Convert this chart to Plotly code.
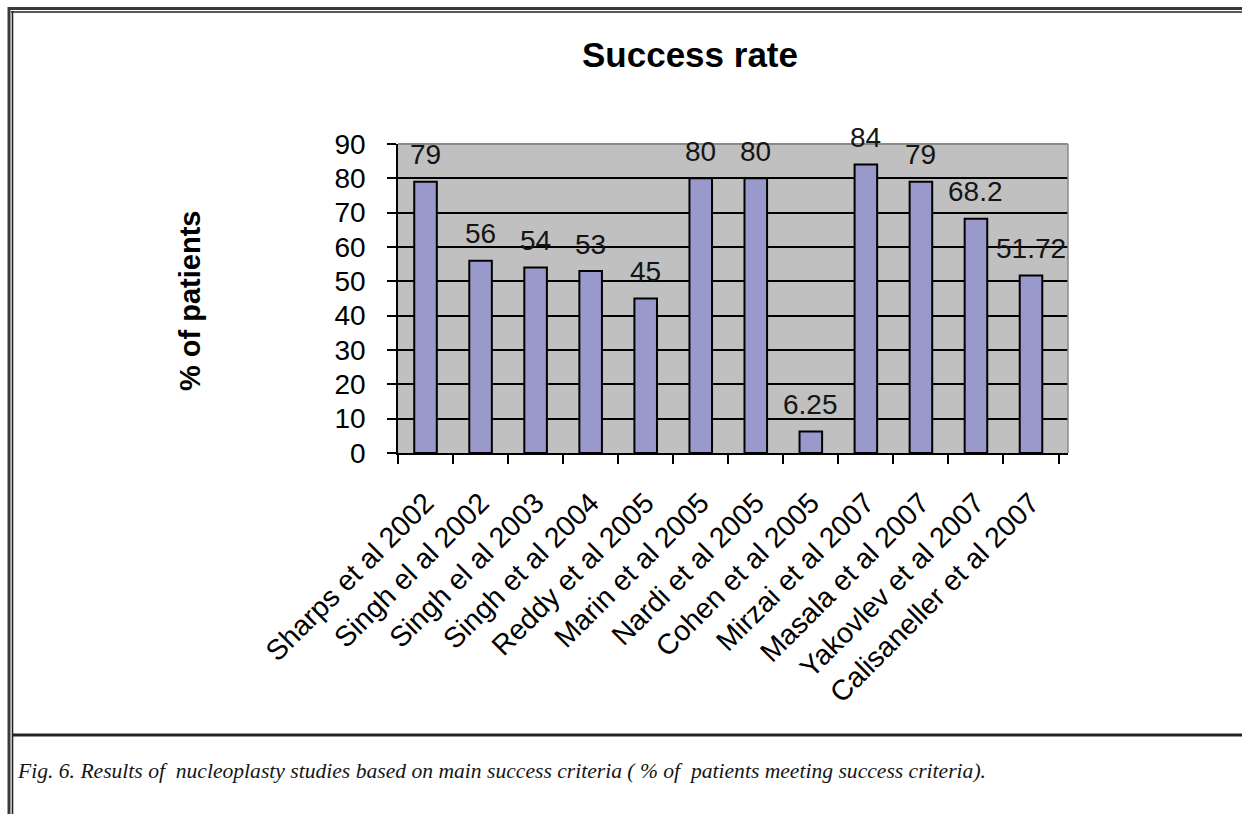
import plotly.graph_objects as go

categories = ["Sharps et al 2002", "Singh el al 2002", "Singh el al 2003", "Singh et al 2004",
              "Reddy et al 2005", "Marin et al 2005", "Nardi et al 2005", "Cohen et al 2005",
              "Mirzai et al 2007", "Masala et al 2007", "Yakovlev et al 2007", "Calisaneller et al 2007"]
values = [79, 56, 54, 53, 45, 80, 80, 6.25, 84, 79, 68.2, 51.72]
value_labels = ["79", "56", "54", "53", "45", "80", "80", "6.25", "84", "79", "68.2", "51.72"]
y_ticks = [0, 10, 20, 30, 40, 50, 60, 70, 80, 90]

W, H = 1242, 814
L, R, T, B = 398, 1068, 144, 453
PW, PH = R - L, B - T


def px(x):
    return (x - L) / PW


def py(y):
    return 1 - (y - T) / PH


SANS = "Liberation Sans, Arial, sans-serif"

fig = go.Figure()
fig.add_trace(go.Bar(
    x=categories, y=values,
    marker=dict(color="#9999cc", line=dict(color="#000000", width=2)),
    hoverinfo="x+y",
))

annotations = []
for c, v, t in zip(categories, values, value_labels):
    annotations.append(dict(x=c, y=v, xref="x", yref="y", text=t, showarrow=False,
                            yanchor="middle", xanchor="center", yshift=27,
                            font=dict(family=SANS, size=28, color="#151515")))

# y-axis title
annotations.append(dict(x=px(190), y=py(301), xref="paper", yref="paper",
                        text="<b>% of patients</b>", textangle=-90, showarrow=False,
                        xanchor="center", yanchor="middle",
                        font=dict(family=SANS, size=29, color="#000000")))
# caption
annotations.append(dict(x=px(15), y=py(771), xref="paper", yref="paper",
                        text="<i>Fig. 6. Results of  nucleoplasty studies based on main success criteria ( % of  patients meeting success criteria).</i>",
                        showarrow=False, xanchor="left", yanchor="middle",
                        font=dict(family="Liberation Serif, Times New Roman, serif", size=21.6, color="#151515")))

shapes = []
def hline(y, x0, x1, w, color):
    shapes.append(dict(type="line", xref="paper", yref="paper", x0=px(x0), x1=px(x1),
                       y0=py(y), y1=py(y), line=dict(color=color, width=w), layer="above"))

def vline(x, y0, y1, w, color):
    shapes.append(dict(type="line", xref="paper", yref="paper", x0=px(x), x1=px(x),
                       y0=py(y0), y1=py(y1), line=dict(color=color, width=w), layer="above"))

# page frame (double line top & left)
hline(8.5, 8, W + 5, 3, "#3a3a3a")
hline(12, 11, W + 5, 1.6, "#222222")
vline(9, 7, H + 5, 3, "#3a3a3a")
vline(12.5, 11, H + 5, 1.6, "#222222")
# separator above caption
hline(735, 12, W + 5, 3, "#222222")
# plot-area border (top & right, gray)
hline(T, L, R, 2, "#8a8a8a")
vline(R, T, B, 1.5, "#8a8a8a")

fig.update_layout(
    width=W, height=H,
    margin=dict(l=L, r=W - R, t=T, b=H - B, pad=0),
    paper_bgcolor="#ffffff",
    plot_bgcolor="#c0c0c0",
    bargap=0.59,
    showlegend=False,
    title=dict(text="<b>Success rate</b>", x=690 / W, xanchor="center", xref="container",
               y=1 - 55 / H, yanchor="middle", yref="container",
               font=dict(family=SANS, size=35, color="#000000")),
    xaxis=dict(
        type="category", tickangle=-45, tickson="boundaries",
        ticks="outside", ticklen=9, tickwidth=1.5, tickcolor="#000000",
        showline=True, linecolor="#000000", linewidth=1.5,
        showgrid=False, ticklabelstandoff=20,
        tickfont=dict(family=SANS, size=28.5, color="#000000"),
    ),
    yaxis=dict(
        range=[0, 90], tickvals=y_ticks, ticktext=[str(v) for v in y_ticks],
        ticks="outside", ticklen=9, tickwidth=1.5, tickcolor="#000000",
        showline=True, linecolor="#000000", linewidth=1.5,
        showgrid=True, gridcolor="#000000", gridwidth=1.5,
        zeroline=False, ticklabelstandoff=16,
        tickfont=dict(family=SANS, size=28, color="#000000"),
    ),
    annotations=annotations,
    shapes=shapes,
)

fig.write_html("out.html")
